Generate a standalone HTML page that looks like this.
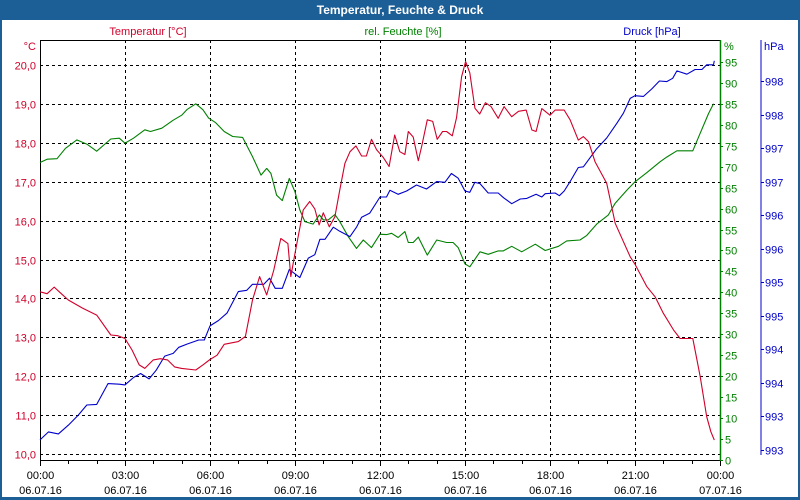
<!DOCTYPE html>
<html><head><meta charset="utf-8"><style>
html,body{margin:0;padding:0;background:#fff}
svg{display:block;font-family:"Liberation Sans",sans-serif;font-size:11px}
</style></head><body>
<svg id="chart" width="800" height="500" viewBox="0 0 800 500">
<rect x="0" y="0" width="800" height="500" fill="#1c5e96"/>
<rect x="2" y="20" width="796" height="477" fill="#fff"/>
<text x="400" y="14" text-anchor="middle" fill="#fff" font-weight="bold" font-size="12">Temperatur, Feuchte &amp; Druck</text>
<text x="148" y="35" text-anchor="middle" fill="#d0002a">Temperatur [°C]</text>
<text x="403" y="35" text-anchor="middle" fill="#008000">rel. Feuchte [%]</text>
<text x="652" y="35" text-anchor="middle" fill="#0000cc">Druck [hPa]</text>
<text x="36" y="50" text-anchor="end" fill="#d0002a">°C</text>
<text x="724" y="50" fill="#008000">%</text>
<text x="764" y="50" fill="#0000cc">hPa</text>
<g id="grid"></g>
<g id="axes"></g>
<g id="series"></g>
</svg>
<script>
const tTimes=[0,0.25,0.5,0.75,1,1.5,2,2.5,2.75,3,3.25,3.5,3.7,4,4.25,4.5,4.75,5,5.5,5.75,6,6.25,6.5,7,7.25,7.5,7.75,8,8.25,8.5,8.75,8.85,9,9.29,9.52,9.7,9.85,10,10.21,10.41,10.58,10.76,10.94,11.15,11.35,11.52,11.7,11.88,12.11,12.32,12.52,12.7,12.88,13,13.17,13.35,13.47,13.67,13.86,14.02,14.21,14.35,14.55,14.7,14.88,15.02,15.17,15.35,15.52,15.72,15.92,16.17,16.38,16.65,16.89,17.16,17.36,17.51,17.71,18,18.18,18.5,18.71,19,19.18,19.36,19.59,20,20.3,20.83,21,21.42,21.71,22,22.36,22.59,23.04,23.3,23.53,23.68,23.8];
const tempValues=[14.17,14.12,14.29,14.12,13.96,13.75,13.57,13.06,13.04,12.97,12.67,12.29,12.2,12.42,12.45,12.42,12.24,12.2,12.16,12.29,12.43,12.54,12.82,12.89,13.02,13.96,14.56,14.09,14.73,15.54,15.41,14.56,15.16,16.27,16.49,16.3,15.89,16.2,15.84,16.1,16.79,17.47,17.77,17.92,17.66,17.66,18.09,17.82,17.63,17.39,18.2,17.77,17.7,18.29,18.15,17.54,17.91,18.59,18.55,18.09,18.29,18.29,18.18,18.64,19.7,20.09,19.8,18.89,18.74,19.03,18.93,18.63,18.93,18.67,18.81,18.84,18.33,18.29,18.88,18.71,18.84,18.84,18.59,18.07,18.16,18.03,17.51,16.96,15.93,15.07,14.88,14.3,14.04,13.62,13.19,12.97,12.97,11.99,10.96,10.57,10.36];
const hTimes=[0,0.25,0.6,0.9,1.3,1.65,2,2.5,2.8,3,3.3,3.7,3.9,4.3,4.7,5,5.2,5.5,5.75,5.95,6.2,6.5,6.8,7.15,7.5,7.8,8,8.15,8.35,8.55,8.8,9.0,9.17,9.35,9.64,9.86,10,10.17,10.41,10.58,10.88,11.17,11.41,11.7,12,12.23,12.41,12.64,12.88,13,13.17,13.35,13.67,14,14.35,14.58,14.76,15,15.17,15.53,15.82,16.17,16.35,16.65,17,17.48,17.83,18.3,18.59,19.06,19.3,19.65,20.06,20.3,20.71,21,21.42,21.89,22.12,22.48,23.04,23.3,23.59,23.77];
const humidityValues=[71,71.8,71.9,74.4,76.4,75.4,73.7,76.6,76.8,75.6,76.8,78.8,78.4,79.2,81.1,82.3,83.7,85,83.6,81.6,80.5,78.4,77.2,77,72.4,68,69.6,68.4,63.2,61.9,67.2,64,59.7,56.9,56.3,58.5,57.3,57.3,58.6,56.9,53.3,50.5,52.5,50.7,53.9,53.8,54.1,53.1,54.5,51.9,51.9,53.2,48.9,52.5,51.9,51.9,50.7,46.8,46.1,49.7,49.1,49.9,49.9,51,49.7,51.5,50,51,52.3,52.5,53.6,56.3,58.5,61.3,64.4,66.4,68.6,71.2,72.3,73.8,73.8,78,82.6,85];
const pTimes=[0,0.3,0.65,1,1.35,1.65,2,2.4,2.8,3,3.3,3.55,3.85,4.1,4.4,4.7,4.9,5.2,5.6,5.8,6,6.3,6.6,7,7.3,7.5,7.9,8.1,8.3,8.55,8.8,9.17,9.47,9.7,9.88,10.06,10.35,10.58,10.94,11.17,11.35,11.64,12,12.23,12.35,12.64,12.94,13.29,13.64,14,14.29,14.52,14.76,15,15.17,15.35,15.53,15.82,16.17,16.36,16.65,16.95,17.18,17.51,17.71,17.83,18.18,18.33,18.5,18.71,19,19.18,19.65,20,20.36,20.59,20.83,21,21.3,21.59,21.86,22.12,22.33,22.48,22.83,23.12,23.36,23.53,23.77,23.8];
const pressureValues=[992.65,992.77,992.74,992.87,993.02,993.17,993.18,993.49,993.48,993.47,993.58,993.64,993.56,993.69,993.9,993.94,994.03,994.08,994.14,994.14,994.35,994.43,994.54,994.86,994.88,994.97,994.97,995.06,994.91,994.91,995.19,995.07,995.36,995.41,995.64,995.64,995.82,995.76,995.68,995.82,995.97,996.03,996.27,996.27,996.37,996.31,996.36,996.45,996.39,996.5,996.49,996.62,996.55,996.36,996.34,996.49,996.47,996.33,996.33,996.26,996.17,996.24,996.25,996.31,996.27,996.32,996.33,996.29,996.36,996.5,996.71,996.72,996.99,997.15,997.37,997.52,997.74,997.78,997.77,997.88,998.0,997.99,998.04,998.15,998.1,998.17,998.17,998.24,998.24,998.3];
const tempTicks=[10,11,12,13,14,15,16,17,18,19,20];
const tempTickLabels=["10,0","11,0","12,0","13,0","14,0","15,0","16,0","17,0","18,0","19,0","20,0"];
const humTicks=[0,5,10,15,20,25,30,35,40,45,50,55,60,65,70,75,80,85,90,95];
const pressTicks=[992.5,993,993.5,994,994.5,995,995.5,996,996.5,997,997.5,998];
const pressTickLabels=["993","993","994","994","995","995","996","996","997","997","998","998"];
const xTicks=[0,3,6,9,12,15,18,21,24];
const xTimeLabels=["00:00","03:00","06:00","09:00","12:00","15:00","18:00","21:00","00:00"];
const xDateLabels=["06.07.16","06.07.16","06.07.16","06.07.16","06.07.16","06.07.16","06.07.16","06.07.16","07.07.16"];

const X0=40,X1=720,Y0=40,YB=460;
const xs=h=>X0+(X1-X0)*h/24;
const yT=t=>65+(20-t)*38.9;
const yH=h=>460-h*4.19;
const yP=p=>450-(p-992.5)*67.1;
const NS="http://www.w3.org/2000/svg";
function mk(parent,tag,attrs){const e=document.createElementNS(NS,tag);for(const k in attrs)e.setAttribute(k,attrs[k]);parent.appendChild(e);return e;}
const grid=document.getElementById('grid'),axes=document.getElementById('axes'),series=document.getElementById('series');

tempTicks.forEach((t,i)=>{
  const y=Math.round(yT(t))+0.5;
  const l=mk(grid,'line',{x1:X0,x2:X1,y1:y,y2:y,stroke:'#000','stroke-dasharray':'3,3'});
  
  
  const tx=mk(axes,'text',{x:36,y:y+4,'text-anchor':'end',fill:'#d0002a'});
  tx.textContent=tempTickLabels[i];
  
  
});
xTicks.forEach((h,i)=>{
  const x=Math.round(xs(h))+0.5;
  if(i>0&&i<xTicks.length-1){
    const l=mk(grid,'line',{x1:x,x2:x,y1:Y0,y2:YB,stroke:'#000','stroke-dasharray':'3,3'});
    
    
  }
  const t1=mk(axes,'text',{x:x,y:479,'text-anchor':'middle',fill:'#000'});
  t1.textContent=xTimeLabels[i];
  
  
  const t2=mk(axes,'text',{x:x,y:494,'text-anchor':'middle',fill:'#000'});
  t2.textContent=xDateLabels[i];
  
  
});
for(let h=0;h<=24;h++){
  const x=Math.round(xs(h))+0.5;
  const l=mk(axes,'line',{x1:x,x2:x,y1:YB,y2:YB+(h%3===0?6:4),stroke:'#000'});
  
  
}
humTicks.forEach(h=>{
  const y=Math.round(yH(h))+0.5;
  const l=mk(axes,'line',{x1:X1,x2:X1+3,y1:y,y2:y,stroke:'#008000'});
  
  
  const t=mk(axes,'text',{x:725,y:y+4,fill:'#008000'});
  t.textContent=String(h);
  
  
});
pressTicks.forEach((p,i)=>{
  const y=Math.round(yP(p))+0.5;
  const l=mk(axes,'line',{x1:761,x2:764,y1:y,y2:y,stroke:'#0000cc'});
  
  
  const t=mk(axes,'text',{x:765,y:y+4,fill:'#0000cc'});
  t.textContent=pressTickLabels[i];
  
  
});
let a;
a=mk(axes,'path',{d:`M${X0+0.5},${YB+0.5}V${Y0+0.5}H${X1}`,fill:'none',stroke:'#000'});

a=mk(axes,'line',{x1:X0,x2:X1,y1:YB+0.5,y2:YB+0.5,stroke:'#000'});

a=mk(axes,'line',{x1:X1+0.5,x2:X1+0.5,y1:Y0,y2:YB+1,stroke:'#008000','stroke-width':1.5});

a=mk(axes,'line',{x1:761,x2:761,y1:Y0,y2:YB-5,stroke:'#0000cc'});


function line(times,vals,yf,color,name){
  const d=times.map((h,i)=>(i?'L':'M')+xs(h).toFixed(1)+','+yf(vals[i]).toFixed(1)).join('');
  const p=mk(series,'path',{d:d,fill:'none',stroke:color,'stroke-width':1.1,'stroke-linejoin':'round'});
  
  
}
line(hTimes,humidityValues,yH,'#008000','humidity-line');
line(pTimes,pressureValues,yP,'#0000cc','pressure-line');
line(tTimes,tempValues,yT,'#d0002a','temperature-line');
</script>
</body></html>
